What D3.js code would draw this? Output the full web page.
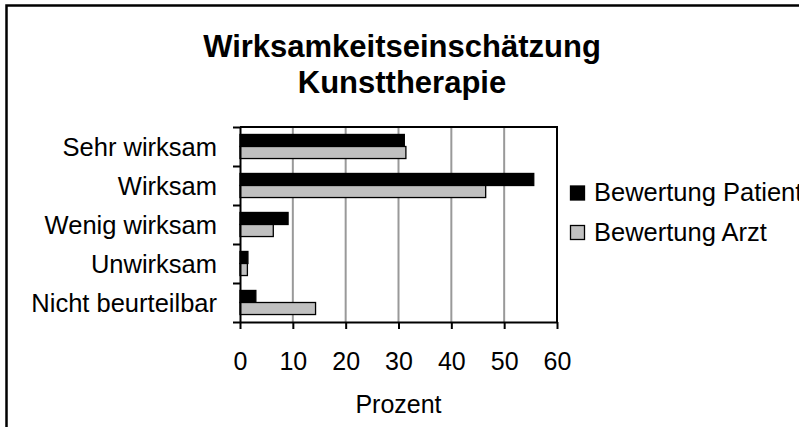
<!DOCTYPE html>
<html>
<head>
<meta charset="utf-8">
<script src="https://cdn.jsdelivr.net/npm/d3@7"></script>
<style>
  body { margin: 0; background: #fff; }
  text { font-family: "Liberation Sans", Arial, sans-serif; fill: #000; }
</style>
</head>
<body>
<div class="canvas"></div>
<script>
// data
const categories = ["Sehr wirksam", "Wirksam", "Wenig wirksam", "Unwirksam", "Nicht beurteilbar"];
const seriesNames = ["Bewertung Patient", "Bewertung Arzt"];
const patientValues = [31.1, 55.6, 9.1, 1.5, 3.0];
const arztValues = [31.4, 46.5, 6.3, 1.4, 14.3];
const xTickValues = [0, 10, 20, 30, 40, 50, 60];
const titleLines = ["Wirksamkeitseinschätzung", "Kunsttherapie"];
const xLabel = "Prozent";

// dimensions
const w = 799;
const h = 427;
const plot = { left: 240, right: 557, top: 127, bottom: 322 };
const colors = ["#000000", "#c0c0c0"];

const svg = d3.select(".canvas").append("svg").attr("width", w).attr("height", h);

// outer frame (runs off the right and bottom edge)
svg.append("rect")
  .attr("x", 6.5).attr("y", 5.5)
  .attr("width", 830).attr("height", 440)
  .attr("fill", "none").attr("stroke", "#000").attr("stroke-width", 2.5);

function addText(g, x, y, str, size, anchor, weight) {
  return g.append("text")
    .attr("x", x).attr("y", y)
    .attr("text-anchor", anchor)
    .style("font-size", size + "px")
    .style("font-weight", weight || "normal")
    .text(str);
}

// title
titleLines.forEach((t, i) => addText(svg, 402, 57 + i * 36, t, 31, "middle", "bold"));

// scales
const x = d3.scaleLinear().domain([0, 60]).range([plot.left, plot.right]);
const y = d3.scaleBand().domain(categories).range([plot.top, plot.bottom]);
const ySub = d3.scaleBand().domain(seriesNames).range([0, y.bandwidth()]).paddingOuter(0.62);
const yIdx = d3.scaleLinear().domain([0, categories.length]).range([plot.top, plot.bottom]);

// gridlines
svg.append("g")
  .selectAll("line")
  .data(xTickValues.slice(1, -1))
  .enter()
  .append("line")
  .attr("x1", d => x(d)).attr("x2", d => x(d))
  .attr("y1", plot.top).attr("y2", plot.bottom)
  .attr("stroke", "#999").attr("stroke-width", 2);

// plot box top and right
svg.append("path")
  .attr("d", `M${plot.left},${plot.top}H${plot.right}V${plot.bottom}`)
  .attr("fill", "none").attr("stroke", "#000").attr("stroke-width", 2);

// bars
const table = categories.map((c, i) => ({ cat: c, vals: [patientValues[i], arztValues[i]] }));
const groups = svg.append("g")
  .selectAll("g")
  .data(table)
  .enter()
  .append("g")
  .attr("transform", d => `translate(0,${y(d.cat)})`);
groups.selectAll("rect")
  .data(d => d.vals.map((v, j) => ({ name: seriesNames[j], v: v, j: j })))
  .enter()
  .append("rect")
  .attr("x", x(0))
  .attr("y", d => ySub(d.name))
  .attr("width", d => x(d.v) - x(0))
  .attr("height", ySub.bandwidth())
  .attr("fill", d => colors[d.j])
  .attr("stroke", "#000")
  .attr("stroke-width", 1.3);

// y axis: ticks on category boundaries
const yAxis = svg.append("g")
  .attr("transform", `translate(${plot.left},0)`)
  .call(d3.axisLeft(yIdx).ticks(categories.length).tickFormat("").tickSize(7).tickSizeOuter(0));
yAxis.selectAll("path, line").attr("stroke", "#000").attr("stroke-width", 2);

// category labels
categories.forEach(c => addText(svg, 217, y(c) + y.bandwidth() / 2 + 9, c, 25.5, "end"));

// x axis
const xAxis = svg.append("g")
  .attr("transform", `translate(0,${plot.bottom})`)
  .call(d3.axisBottom(x).tickValues(xTickValues).tickSize(7).tickSizeOuter(0));
xAxis.selectAll("path, line").attr("stroke", "#000").attr("stroke-width", 2);
xAxis.selectAll("text")
  .attr("y", 48).attr("dy", null)
  .style("font-size", "25px")
  .style("font-family", "'Liberation Sans', Arial, sans-serif")
  .attr("fill", "#000");

// x label
addText(svg, (plot.left + plot.right) / 2, 413, xLabel, 25, "middle");

// legend (the first entry runs off the right edge, as in the original)
const legend = svg.append("g").attr("transform", "translate(570,0)");
seriesNames.forEach((s, i) => {
  legend.append("rect")
    .attr("x", 0.5).attr("y", 186 + i * 39.5)
    .attr("width", 14).attr("height", 14)
    .attr("fill", colors[i]).attr("stroke", "#000").attr("stroke-width", 1.3);
  addText(legend, 24, 201 + i * 39.5, s, 25.5, "start");
});
</script>
</body>
</html>
